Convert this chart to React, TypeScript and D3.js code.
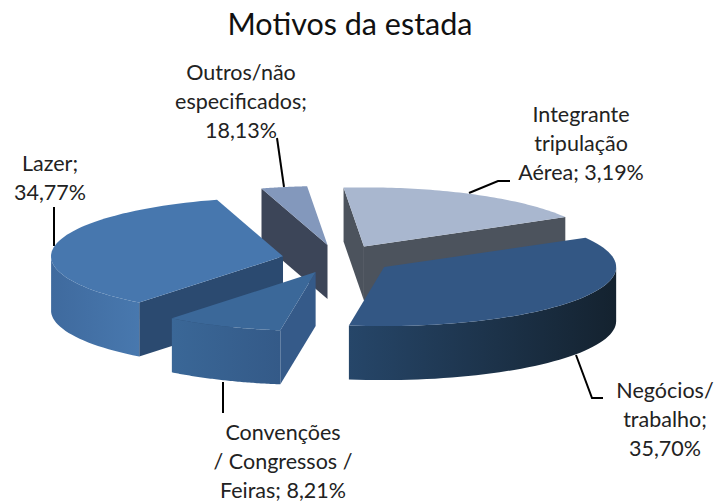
import * as d3 from 'd3';

const sliceNames = ['Lazer', 'Fatia menor', 'Fatia clara', 'Negócios', 'Convenções'];
const sliceValues = [34.77, 3.19, 18.13, 35.7, 8.21];
const titleText = 'Motivos da estada';

const labelLines = [
    ['Lazer;', '34,77%'],
    ['Outros/não', 'especificados;', '18,13%'],
    ['Integrante', 'tripulação', 'Aérea; 3,19%'],
    ['Negócios/', 'trabalho;', '35,70%'],
    ['Convenções', '/ Congressos /', 'Feiras; 8,21%'],
];

// slice colours: top face, walls, rim gradient
const topColors = ['#4777ae', '#8398bc', '#a9b7cf', '#335784', '#3b6899'];
const wallColors = ['#2b4a70', '#3c4558', '#4c535d', '#264669', '#355a89'];
const rimFrom = ['#3f6a9e', '#3c4558', '#4c535d', '#264669', '#3a6797'];
const rimTo = ['#4878ae', '#3c4558', '#4c535d', '#14222f', '#345a88'];

const width = 718;
const height = 504;
const depth = 54;
const explode = 56 / 232;
const startDeg = 218.3;

// ground plane of the 3D pie, unit circle -> page pixels
const xScale = d3.scaleLinear().domain([-1, 1]).range([338 - 232, 338 + 232]);
const yScale = d3.scaleLinear().domain([-1, 1]).range([259 + 59, 259 - 59]);

const pie = d3.pie<number>().sort(null)
    .startAngle((startDeg * Math.PI) / 180)
    .endAngle(((startDeg + 360) * Math.PI) / 180);
const arcs = pie(sliceValues);

const labelPos = [
    { x: 50, y: 171 },
    { x: 241, y: 80 },
    { x: 581, y: 122 },
    { x: 665, y: 398 },
    { x: 283, y: 440 },
];
const lineGap = 29;

const leaders = [
    [[54, 207], [54, 246]],
    [[277, 138], [284, 187]],
    [[469, 193], [498, 181], [510, 181]],
    [[576, 355], [592, 398], [603, 398]],
    [[223, 382], [223, 413]],
];

const line = d3.line<number[]>();

export default function App() {
    // draw back to front
    const order = [1, 2, 0, 3, 4];

    const slices = arcs.map((a, i) => {
        const mid = (a.startAngle + a.endAngle) / 2;
        const ox = explode * Math.sin(mid);
        const oy = explode * Math.cos(mid);
        const pt = (ang: number, r: number, drop = 0) => [
            xScale(ox + r * Math.sin(ang)),
            yScale(oy + r * Math.cos(ang)) + drop,
        ];
        const steps = d3.range(0, 61).map(s => a.startAngle + ((a.endAngle - a.startAngle) * s) / 60);
        const rim = steps.map(s => pt(s, 1));
        const apex = pt(0, 0);
        const apexLow = pt(0, 0, depth);

        const top = line([apex, ...rim]) + 'Z';
        // only the part of the rim facing the viewer gets a wall
        const front = steps.filter(s => Math.cos(s) <= 0).map(s => [pt(s, 1), pt(s, 1, depth)]);
        const rimWall = front.length > 1
            ? line([...front.map(p => p[0]), ...front.map(p => p[1]).reverse()]) + 'Z'
            : null;
        const radial = (ang: number) =>
            line([apex, pt(ang, 1), pt(ang, 1, depth), apexLow]) + 'Z';
        // a cut face shows when it turns towards the viewer
        const walls: string[] = [];
        if (Math.sin(a.startAngle) < 0) walls.push(radial(a.startAngle));
        if (Math.sin(a.endAngle) > 0) walls.push(radial(a.endAngle));
        return { i, top, rimWall, walls, xs: front.map(p => p[0][0]) };
    });

    return (
        <svg width={width} height={height} viewBox={`0 0 ${width} ${height}`}
            style={{ position: 'fixed', left: 0, top: 0, background: '#fff' }}>
            <defs>
                {slices.map(s => (
                    <linearGradient key={s.i} id={`rim${s.i}`} gradientUnits="userSpaceOnUse"
                        x1={d3.min(s.xs) ?? 0} x2={d3.max(s.xs) ?? 1} y1={0} y2={0}>
                        <stop offset="0%" stopColor={rimFrom[s.i]} />
                        <stop offset="100%" stopColor={rimTo[s.i]} />
                    </linearGradient>
                ))}
            </defs>
            {leaders.map((pts, i) => (
                <path key={i} d={line(pts as number[][]) ?? ''} fill="none" stroke="#000" strokeWidth={2} />
            ))}
            {order.map(i => {
                const s = slices[i];
                return (
                    <g key={i} data-name={sliceNames[i]}>
                        {s.walls.map((d, k) => <path key={k} d={d} fill={wallColors[i]} />)}
                        {s.rimWall && <path d={s.rimWall} fill={`url(#rim${i})`} />}
                        <path d={s.top} fill={topColors[i]} />
                    </g>
                );
            })}
            <text x={350} y={35} textAnchor="middle" fontFamily="Lato, sans-serif" fontSize={30.5} fill="#111">
                {titleText}
            </text>
            {labelLines.map((lines, i) => (
                <text key={i} textAnchor="middle" fontFamily="Lato, sans-serif" fontSize={21.5} fill="#222">
                    {lines.map((t, k) => (
                        <tspan key={k} x={labelPos[i].x} y={labelPos[i].y + k * lineGap}>{t}</tspan>
                    ))}
                </text>
            ))}
        </svg>
    );
}
